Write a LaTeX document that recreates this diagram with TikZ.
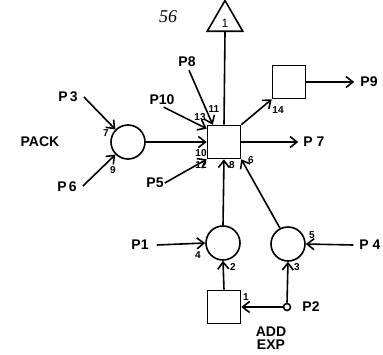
\documentclass[tikz,border=0pt]{standalone}
\usepackage{fontspec}
\setmainfont{Liberation Sans}
\newfontfamily\handfont{Liberation Serif}
\usetikzlibrary{arrows.meta,shapes.geometric}
\begin{document}
\begin{tikzpicture}[x=1pt,y=-1pt,
  every node/.style={inner sep=0pt},
  place/.style={circle,draw,minimum size=34pt,line width=1.6pt},
  trans/.style={rectangle,draw,minimum size=33pt,line width=1.6pt},
  lbl/.style={font=\bfseries\fontsize{14}{14}\selectfont},
  num/.style={font=\bfseries\fontsize{10}{10}\selectfont},
  arc/.style={line width=1.6pt},
  arr/.style={arc,-{Straight Barb[length=7pt,width=11pt]}},
]
\useasboundingbox (0,0) rectangle (383,354);
% nodes
\node[trans] (sq) at (224,142) {};
\node[regular polygon,regular polygon sides=3,draw,line width=1.6pt,minimum size=41pt] (tri) at (225,21) {};
\node[font=\fontsize{12}{12}\selectfont] (tril) at (225,23) {1};
\node[trans] (t14) at (289,82) {};
\node[trans] (t1) at (224,307) {};
\node[place] (pack) at (128,142) {};
\node[place] (c2) at (223,243) {};
\node[place] (c5) at (288,244) {};
\node[circle,draw,line width=1.6pt,minimum size=7pt] (p2c) at (287,307) {};
% labels
\node[font=\handfont\itshape\fontsize{18}{18}\selectfont] (n56) at (168,17) {56};
\node[lbl] (p3) at (68,97) {P\,3};
\node[lbl] (p6) at (67,187) {P\,6};
\node[lbl] (packl) at (40,142) {PACK};
\node[lbl] (p10) at (162,100) {P10};
\node[lbl] (p8) at (187,62) {P8};
\node[lbl] (p5) at (155,183) {P5};
\node[lbl] (p7) at (314,142) {P 7};
\node[lbl] (p9) at (369,82) {P9};
\node[lbl] (p1) at (140,245) {P1};
\node[lbl] (p4) at (370,245) {P 4};
\node[lbl] (p2) at (311,307) {P2};
\node[lbl,align=center] (addexp) at (271,338) {ADD\\[-1pt]EXP};
% arc numbers
\node[num] (k7) at (106,133) {7};
\node[num] (k9) at (113,170) {9};
\node[num] (k13) at (200,117) {13};
\node[num] (k11) at (214,109) {11};
\node[num] (k10) at (201,153) {10};
\node[num] (k12) at (201,165) {12};
\node[num] (k8) at (232,165) {8};
\node[num] (k6) at (251,160) {6};
\node[num] (k14) at (278,110) {14};
\node[num] (k5) at (312,235) {5};
\node[num] (k4) at (198,255) {4};
\node[num] (k2) at (233,267) {2};
\node[num] (k3) at (297,267) {3};
\node[num] (k1) at (246,297) {1};
% connectors
\draw[arr] ([xshift=6pt]p3.east) -- (pack.135);
\draw[arr] ([xshift=6pt,yshift=1pt]p6.east) -- (pack.225);
\draw[arr] (pack.east) -- (sq.west);
\draw[arr] ([xshift=-11pt,yshift=-2pt]p10.south east) -- ([yshift=-4pt]sq.north west);
\draw[arr] ([xshift=2pt,yshift=-3pt]p8.south) -- ([xshift=6pt]sq.north west);
\draw[arr] ([xshift=1pt]p5.east) -- (sq.south west);
\draw[arr] (c2.north) -- (sq.south);
\draw[arr] (c5.117) -- (sq.south east);
\draw[arr] (sq.east) -- ([xshift=-5pt]p7.west);
\draw[arr] (sq.north east) -- (t14.south west);
\draw[arc] (sq.north) -- (tri.south);
\draw[arr] (t14.east) -- ([xshift=-6pt]p9.west);
\draw[arr] ([xshift=8pt]p1.east) -- (c2.west);
\draw[arr] ([xshift=-6pt]p4.west) -- (c5.east);
\draw[arr] (t1.north) -- (c2.south);
\draw[arr] (p2c.north) -- (c5.south);
\draw[arr] (p2c.west) -- (t1.east);
\end{tikzpicture}
\end{document}
